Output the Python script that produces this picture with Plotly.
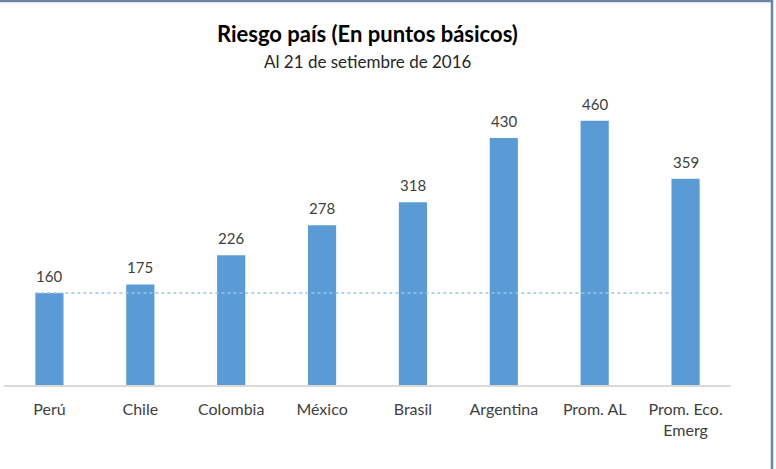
import plotly.graph_objects as go

categories = ["Perú", "Chile", "Colombia", "México", "Brasil", "Argentina", "Prom. AL", "Prom. Eco.<br>Emerg"]
values = [160, 175, 226, 278, 318, 430, 460, 359]
title_text = "Riesgo país (En puntos básicos)"
subtitle_text = "Al 21 de setiembre de 2016"

W, H = 776, 469
ml, mr, mt, mb = 4, 45, 100, 84
pw, ph = W - ml - mr, H - mt - mb
bar_w = 0.31
xs = list(range(len(categories)))
FONT = "Lato"

fig = go.Figure()
fig.add_trace(go.Bar(x=xs, y=values, width=bar_w, marker=dict(color="#5B9BD5", line=dict(width=0)),
                     hoverinfo="skip"))
# reference line at Perú's level
fig.add_trace(go.Scatter(x=[xs[0] - bar_w / 2, xs[-1] - bar_w / 2], y=[values[0], values[0]],
                         mode="lines", line=dict(color="#9DC3E6", width=1.5, dash="dot"), hoverinfo="skip"))

for x, v in zip(xs, values):
    fig.add_annotation(x=x, y=v, text=str(v), showarrow=False, yanchor="bottom", yshift=6,
                       font=dict(family=FONT, size=15, color="#404040"))

def px_x(p):
    return (p - ml) / pw

def px_y(p):
    return 1 - (p - mt) / ph

fig.add_annotation(xref="paper", yref="paper", x=0.5, y=px_y(34), text="<b>" + title_text + "</b>",
                   showarrow=False, yanchor="middle", font=dict(family=FONT, size=22, color="#000000"))
fig.add_annotation(xref="paper", yref="paper", x=0.5, y=px_y(61), text=subtitle_text,
                   showarrow=False, yanchor="middle", font=dict(family=FONT, size=17, color="#262626"))

# chart frame (top and right edges visible)
fig.add_shape(type="line", xref="paper", yref="paper", x0=px_x(0), x1=px_x(773), y0=px_y(1), y1=px_y(1),
              line=dict(color="#6A84A8", width=2.5))
fig.add_shape(type="line", xref="paper", yref="paper", x0=px_x(772), x1=px_x(772), y0=px_y(0), y1=px_y(469),
              line=dict(color="#6A84A8", width=2.5))

fig.update_layout(
    width=W, height=H, margin=dict(l=ml, r=mr, t=mt, b=mb),
    paper_bgcolor="white", plot_bgcolor="white", showlegend=False,
    xaxis=dict(range=[-0.5, len(categories) - 0.5], tickvals=xs, ticktext=categories,
               showgrid=False, zeroline=False, showline=True, linecolor="#D9D9D9", linewidth=2,
               ticks="", ticklabelstandoff=9, tickfont=dict(family=FONT, size=16, color="#404040"),
               fixedrange=True),
    yaxis=dict(range=[0, 496], visible=False, fixedrange=True),
)
fig.write_html("out.html")
